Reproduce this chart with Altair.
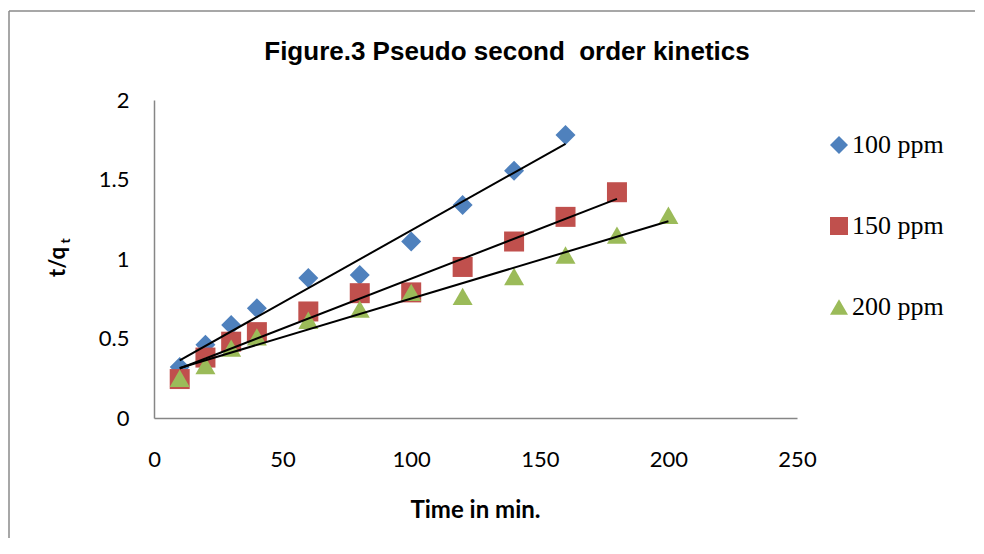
import altair as alt
import pandas as pd

series = ["100 ppm", "150 ppm", "200 ppm"]
colors = ["#4F81BD", "#C0504D", "#9BBB59"]
shapes = ["diamond", "square", "triangle-up"]

times_100 = [10, 20, 30, 40, 60, 80, 100, 120, 140, 160]
vals_100 = [0.32, 0.46, 0.585, 0.69, 0.88, 0.90, 1.11, 1.34, 1.555, 1.78]
times_150 = [10, 20, 30, 40, 60, 80, 100, 120, 140, 160, 180]
vals_150 = [0.245, 0.38, 0.48, 0.54, 0.67, 0.785, 0.79, 0.95, 1.11, 1.265, 1.42]
times_200 = [10, 20, 30, 40, 60, 80, 100, 120, 140, 160, 180, 200]
vals_200 = [0.25, 0.33, 0.44, 0.51, 0.615, 0.685, 0.79, 0.765, 0.89, 1.025, 1.15, 1.275]

x_ticks = [0, 50, 100, 150, 200, 250]
y_ticks = [0, 0.5, 1, 1.5, 2]

chart_title = "Figure.3 Pseudo second \u00a0order kinetics"
x_title = "Time in min."
y_title_main = "t/q"
y_title_sub = "t"

rows = []
for s, ts, vs in [(series[0], times_100, vals_100),
                  (series[1], times_150, vals_150),
                  (series[2], times_200, vals_200)]:
    for t, v in zip(ts, vs):
        rows.append({"series": s, "time": t, "value": v})
df = pd.DataFrame(rows)

legend = alt.Legend(
    title=None, orient="none", legendX=672, legendY=32,
    labelFont="Liberation Serif", labelFontSize=26, labelColor="black",
    labelOffset=0, rowPadding=55, symbolSize=324, symbolStrokeWidth=0,
    symbolOpacity=1, padding=0,
)

xenc = alt.X("time:Q", scale=alt.Scale(domain=[0, 250], nice=False),
             axis=alt.Axis(values=x_ticks, title=None, labelPadding=31,
                           labelFlush=False, labelOverlap=False))
yenc = alt.Y("value:Q", scale=alt.Scale(domain=[0, 2], nice=False),
             axis=alt.Axis(values=y_ticks, title=None, labelPadding=25, format="~g",
                           labelFlush=False, labelOverlap=False))

points = alt.Chart(df).mark_point(filled=True, opacity=1, size=400).encode(
    x=xenc, y=yenc,
    color=alt.Color("series:N", scale=alt.Scale(domain=series, range=colors), legend=legend),
    shape=alt.Shape("series:N", scale=alt.Scale(domain=series, range=shapes), legend=legend),
    order=alt.Order("series:N"),
)

lines = alt.Chart(df).transform_regression(
    "time", "value", groupby=["series"]
).mark_line(color="black", strokeWidth=2).encode(
    x="time:Q", y="value:Q", detail="series:N"
)

one = pd.DataFrame({"a": [0]})
border_left = alt.Chart(one).mark_rule(color="#8a8a8a", strokeWidth=1.5).encode(
    x=alt.value(-145), y=alt.value(-89), y2=alt.value(520)
)
border_top = alt.Chart(one).mark_rule(color="#8a8a8a", strokeWidth=1.5).encode(
    x=alt.value(-145), x2=alt.value(830), y=alt.value(-89)
)

title_txt = alt.Chart(pd.DataFrame({"t": [chart_title]})).mark_text(
    font="Liberation Sans", fontWeight="bold", fontSize=26, align="center",
    baseline="alphabetic", color="black"
).encode(text="t:N", x=alt.value(353), y=alt.value(-40))

xtitle_txt = alt.Chart(pd.DataFrame({"t": [x_title]})).mark_text(
    font="Lato", fontWeight="bold", fontSize=24, align="center",
    baseline="alphabetic", color="black"
).encode(text="t:N", x=alt.value(321.5), y=alt.value(418))

ytitle_txt = alt.Chart(pd.DataFrame({"t": [y_title_main]})).mark_text(
    font="Lato", fontWeight="bold", fontSize=22, align="center",
    baseline="alphabetic", angle=270, color="black"
).encode(text="t:N", x=alt.value(-89), y=alt.value(162))

ysub_txt = alt.Chart(pd.DataFrame({"t": [y_title_sub]})).mark_text(
    font="Lato", fontWeight="bold", fontSize=14, align="center",
    baseline="alphabetic", angle=270, color="black"
).encode(text="t:N", x=alt.value(-84), y=alt.value(141))

chart = alt.layer(border_left, border_top, points, lines, title_txt, xtitle_txt,
                  ytitle_txt, ysub_txt).properties(
    width=643, height=318,
    autosize=alt.AutoSizeParams(type="none"),
    padding={"left": 146, "top": 92, "right": 178, "bottom": 120},
).configure_view(strokeOpacity=0).configure_axis(
    domainColor="#868686", domainWidth=1.5, ticks=False, tickSize=0, grid=False,
    labelFont="Lato", labelFontSize=22, labelColor="black",
)

chart.save("out.html", embed_options={"renderer": "svg", "actions": False})
